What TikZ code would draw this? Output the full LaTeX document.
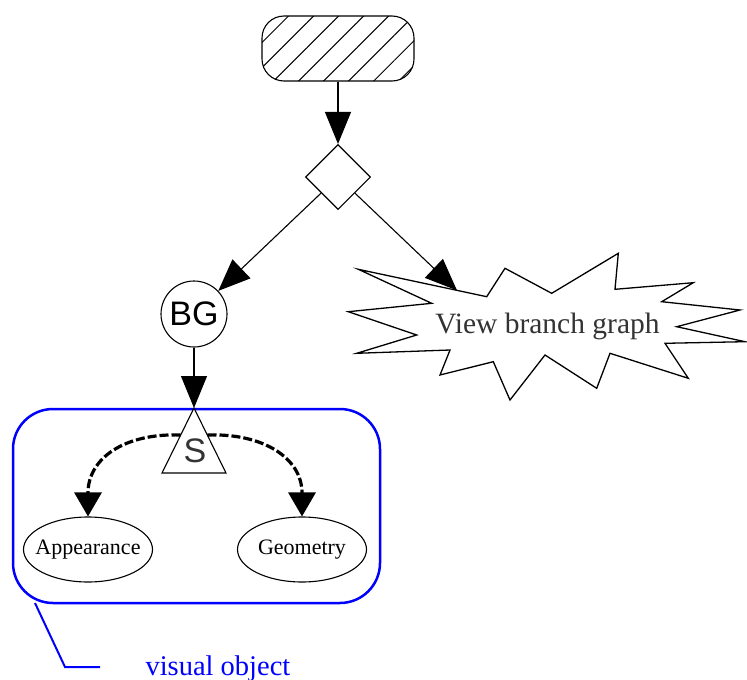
\documentclass[tikz,border=0pt]{standalone}
\usepackage{fontspec}
\setmainfont{Liberation Serif}
\newfontfamily\arialf{Liberation Sans}
\usetikzlibrary{arrows.meta,shapes.geometric,patterns.meta}
\begin{document}
\begin{tikzpicture}[x=1pt,y=-1pt,
  thinline/.style={line width=1.1pt},
  bigarrow/.style={thinline,-{Triangle[length=32pt,width=26pt]}},
  curvarrow/.style={line width=3.2pt,dash pattern=on 9pt off 3pt,-{Triangle[length=24pt,width=27pt]}},
  ellipsebox/.style={draw,thinline,ellipse,minimum width=129pt,minimum height=65pt,inner sep=0pt},
  smalltext/.style={font=\fontsize{22}{22}\selectfont},
  sanstext/.style={font=\arialf\fontsize{34}{34}\selectfont},
  blueline/.style={draw=blue,line width=2.5pt}
]
\useasboundingbox[fill=white] (0,0) rectangle (747,680);

% top hatched terminal
\node[draw,thinline,rounded corners=22pt,minimum width=152pt,minimum height=65pt,
      pattern={Lines[angle=45,distance=17.7pt,line width=1pt]}] (top) at (338,48.5) {};
% diamond
\node[draw,thinline,diamond,minimum width=65pt,minimum height=65pt,inner sep=0pt] (dia) at (338,177) {};
\draw[bigarrow] (top) -- (dia);

% starburst
\draw[line width=1.3pt,line join=miter,fill=white]
  (358.3,269.3) -- (431.7,303.3) -- (348.3,311.7) -- (416.7,335) -- (356.7,353.3)
  -- (450,350) -- (440,375) -- (493.3,361.7) -- (510,400) -- (545,355)
  -- (596.7,388.3) -- (610,353.3) -- (688.3,378.3) -- (665,343.3) -- (745,341.7)
  -- (676.7,326.7) -- (740,310) -- (661.7,301.7) -- (693.3,282.7) -- (615,289.3)
  -- (618.3,253.3) -- (551.7,293.3) -- (505,268.3) -- (486.7,296.7) -- cycle;
\node[anchor=base,text=black!80,font=\fontsize{29.5}{29.5}\selectfont] (vb) at (547.5,333) {View branch graph};
\coordinate (vbt) at (457,290.4);

% BG
\node[draw,thinline,circle,minimum size=66pt,inner sep=0pt,sanstext] (bg) at (194,314) {BG};
\draw[bigarrow] (dia) -- (bg);
\draw[bigarrow] (dia) -- (vbt);

% visual object box
\node[blueline,rounded corners=40pt,minimum width=367pt,minimum height=194pt] (vo) at (196.5,506) {};

% triangle S
\coordinate (apex) at (194,408);
\coordinate (tbl) at (162,473);
\coordinate (tbr) at (226,473);
\draw[thinline,fill=white] (apex) -- (tbl) -- (tbr) -- cycle;
\node[anchor=base,sanstext,text=black!80] (s) at (195,462) {S};
\draw[bigarrow] (bg) -- (apex);

% ellipses
\node[ellipsebox] (app) at (88,549.5) {};
\node[smalltext] (appt) at (app) {Appearance};
\node[ellipsebox] (geo) at (302,549.5) {};
\node[smalltext] (geot) at (geo) {Geometry};

% dashed curved arrows
\coordinate (tl) at (180.5,435);
\coordinate (tr) at (207.5,435);
\draw[curvarrow] (tl) .. controls (125,433) and (88,458) .. (88,493) -- (app.north);
\draw[curvarrow] (tr) .. controls (263,433) and (302,458) .. (302,493) -- (geo.north);

% callout
\coordinate (c1) at (35,603);
\coordinate (c2) at (65,667);
\coordinate (c3) at (100,667);
\draw[blue,line width=2pt] (c1) -- (c2) -- (c3);
\node[anchor=base west,text=blue,font=\fontsize{28.5}{28.5}\selectfont] (vis) at (142,675) {visual object};
\end{tikzpicture}
\end{document}
